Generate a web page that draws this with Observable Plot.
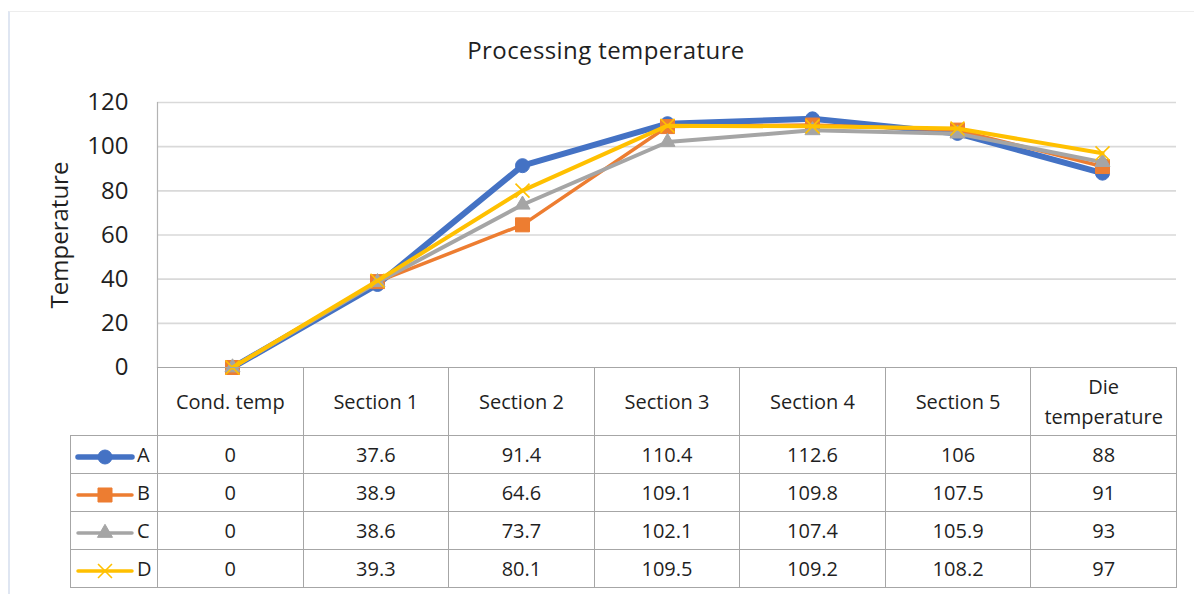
<!DOCTYPE html>
<html>
<head>
<meta charset="utf-8">
<script src="https://cdn.jsdelivr.net/npm/d3@7"></script>
<script src="https://cdn.jsdelivr.net/npm/@observablehq/plot@0.6"></script>
<style>
  body { margin: 0; background: #fff; font-family: "Open Sans", sans-serif; }
  #wrap { position: relative; width: 1194px; height: 594px; overflow: hidden; background: #fff; }
  #edge { position: absolute; left: 8px; top: 11px; width: 1200px; height: 600px;
          border-top: 1px solid #ededed; border-left: 2px solid #dfe6f2; }
  #title { position: absolute; left: 0; width: 1212px; top: 33px; text-align: center;
           font-size: 24px; letter-spacing: 0.4px; color: #1f1f1f; }
  #chart { position: absolute; left: 0; top: 0; }
  #datatable { position: absolute; left: 70px; top: 367px; border-collapse: collapse;
               table-layout: fixed; font-size: 20px; color: #1f1f1f; }
  #datatable td { border: 1px solid #a6a6a6; text-align: center; padding: 0; }
  #datatable tr.head td { height: 67px; line-height: 30px; }
  #datatable tr.row td { height: 37px; line-height: 37px; }
  #datatable td.corner { border-top: none; border-left: none; }
  #datatable td.key { text-align: left; white-space: nowrap; }
  #datatable td.key svg { vertical-align: middle; }
</style>
</head>
<body>
<div id="wrap">
  <div id="edge"></div>
  <div id="chart"></div>
  <div id="title">Processing temperature</div>
  <table id="datatable"></table>
</div>
<script>
// Measurement points along the line
const categories = ["Cond. temp", "Section 1", "Section 2", "Section 3", "Section 4", "Section 5", "Die temperature"];
const seriesNames = ["A", "B", "C", "D"];
const seriesA = [0, 37.6, 91.4, 110.4, 112.6, 106, 88];
const seriesB = [0, 38.9, 64.6, 109.1, 109.8, 107.5, 91];
const seriesC = [0, 38.6, 73.7, 102.1, 107.4, 105.9, 93];
const seriesD = [0, 39.3, 80.1, 109.5, 109.2, 108.2, 97];
const yTicks = [0, 20, 40, 60, 80, 100, 120];
const yLabel = "Temperature";

const seriesValues = [seriesA, seriesB, seriesC, seriesD];
const colors = ["#4472C4", "#ED7D31", "#A5A5A5", "#FFC000"];
const lineWidths = [6, 3.5, 4, 4];
const symbols = ["circle", "square", "triangle", "times"];
const symbolRadii = [7, 7.9, 5.6, 6.4];

const rows = seriesNames.flatMap((s, i) =>
  categories.map((c, j) => ({ series: s, category: c, value: seriesValues[i][j] })));

// One line plus its markers per series, drawn in series order
const seriesMarks = seriesNames.flatMap((s, i) => {
  const data = rows.filter(d => d.series === s);
  const isStroke = symbols[i] === "times";
  return [
    Plot.line(data, { x: "category", y: "value", stroke: colors[i], strokeWidth: lineWidths[i],
                      strokeLinejoin: "round", strokeLinecap: "round" }),
    Plot.dot(data, { x: "category", y: "value", symbol: symbols[i], r: symbolRadii[i],
                     fill: isStroke ? "none" : colors[i], stroke: colors[i],
                     strokeWidth: isStroke ? 1.6 : 1 })
  ];
});

const chart = Plot.plot({
  width: 1194,
  height: 594,
  marginTop: 102,
  marginBottom: 227,
  marginLeft: 157,
  marginRight: 18,
  style: { fontFamily: "Open Sans", background: "transparent" },
  x: { type: "point", domain: categories, padding: 0.5, axis: null },
  y: { domain: [0, 120], axis: null },
  marks: [
    Plot.ruleY(yTicks.filter(d => d > 0), { stroke: "#d9d9d9", strokeWidth: 1.6 }),
    Plot.frame({ anchor: "left", stroke: "#b3b3b3", strokeWidth: 1.2 }),
    Plot.axisY(yTicks, { tickSize: 0, tickPadding: 29, fontSize: 24, fill: "#1f1f1f", label: null }),
    Plot.text([yLabel], { frameAnchor: "left", textAnchor: "middle", rotate: -90, dx: -97,
                          fontSize: 24, fill: "#1f1f1f" }),
    ...seriesMarks
  ]
});
document.getElementById("chart").append(chart);

// Data table under the plot, with legend keys in the first column
const table = d3.select("#datatable");
const colgroup = table.append("colgroup");
colgroup.append("col").style("width", "87px");
categories.forEach(() => colgroup.append("col").style("width", "145.57px"));

const head = table.append("tr").attr("class", "head");
head.append("td").attr("class", "corner");
categories.forEach(c => head.append("td").text(c));

seriesNames.forEach((s, i) => {
  const tr = table.append("tr").attr("class", "row");
  const key = tr.append("td").attr("class", "key");
  const svg = key.append("svg").attr("width", 62).attr("height", 20).style("margin-left", "4px");
  svg.append("line").attr("x1", 3).attr("x2", 57).attr("y1", 10).attr("y2", 10)
    .attr("stroke", colors[i]).attr("stroke-width", Math.max(3.5, lineWidths[i] - 0.5))
    .attr("stroke-linecap", "round");
  const sym = d3.symbol().type({
    circle: d3.symbolCircle, square: d3.symbolSquare,
    triangle: d3.symbolTriangle, times: d3.symbolTimes
  }[symbols[i]]).size(Math.PI * symbolRadii[i] * symbolRadii[i]);
  svg.append("path").attr("d", sym()).attr("transform", "translate(30,10)")
    .attr("fill", symbols[i] === "times" ? "none" : colors[i])
    .attr("stroke", colors[i]).attr("stroke-width", symbols[i] === "times" ? 1.6 : 1);
  key.append("span").text(s);
  seriesValues[i].forEach(v => tr.append("td").text(v));
});
</script>
</body>
</html>
